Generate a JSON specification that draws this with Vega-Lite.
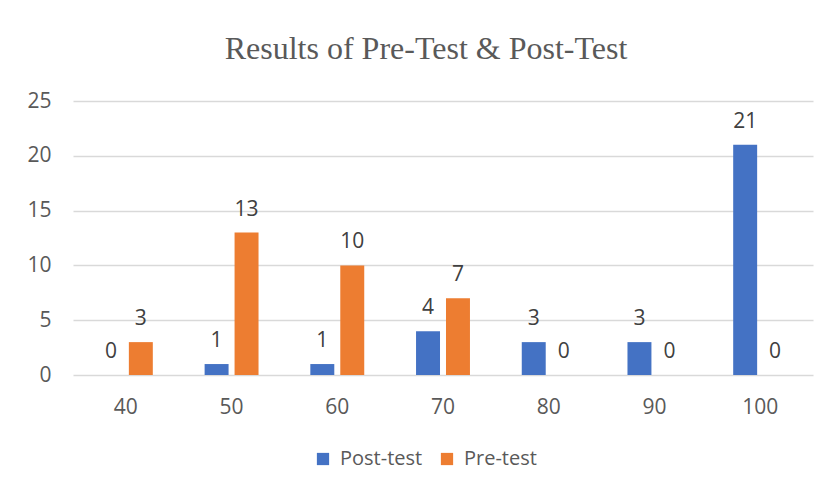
{
  "$schema": "https://vega.github.io/schema/vega-lite/v6.json",
  "width": 740,
  "height": 274,
  "autosize": {"type": "none"},
  "padding": {"left": 73, "top": 101, "right": 16, "bottom": 113},
  "background": "white",
  "title": {
    "text": "Results of Pre-Test & Post-Test",
    "font": "Liberation Serif",
    "fontSize": 32,
    "fontWeight": "normal",
    "color": "#595959",
    "anchor": "middle",
    "frame": "group",
    "dx": -17,
    "baseline": "alphabetic",
    "offset": -1
  },
  "data": {
    "values": [
      {"score": 40, "test": "Post-test", "count": 0},
      {"score": 50, "test": "Post-test", "count": 1},
      {"score": 60, "test": "Post-test", "count": 1},
      {"score": 70, "test": "Post-test", "count": 4},
      {"score": 80, "test": "Post-test", "count": 3},
      {"score": 90, "test": "Post-test", "count": 3},
      {"score": 100, "test": "Post-test", "count": 21},
      {"score": 40, "test": "Pre-test", "count": 3},
      {"score": 50, "test": "Pre-test", "count": 13},
      {"score": 60, "test": "Pre-test", "count": 10},
      {"score": 70, "test": "Pre-test", "count": 7},
      {"score": 80, "test": "Pre-test", "count": 0},
      {"score": 90, "test": "Pre-test", "count": 0},
      {"score": 100, "test": "Pre-test", "count": 0}
    ]
  },
  "encoding": {
    "x": {
      "field": "score",
      "type": "ordinal",
      "scale": {"paddingInner": 0.49, "paddingOuter": 0.245},
      "axis": {
        "title": null,
        "labelAngle": 0,
        "ticks": false,
        "domain": false,
        "labelPadding": 21,
        "labelFont": "Open Sans",
        "labelFontSize": 21,
        "labelColor": "#595959"
      }
    },
    "xOffset": {
      "field": "test",
      "type": "nominal",
      "sort": ["Post-test", "Pre-test"],
      "scale": {"paddingInner": 0.2, "paddingOuter": 0}
    },
    "y": {
      "field": "count",
      "type": "quantitative",
      "scale": {"domain": [0, 25], "nice": false},
      "axis": {
        "title": null,
        "values": [0, 5, 10, 15, 20, 25],
        "ticks": false,
        "domain": false,
        "labelPadding": 22,
        "labelFont": "Open Sans",
        "labelFontSize": 21,
        "labelColor": "#595959",
        "gridColor": "#d9d9d9",
        "gridWidth": 1.5
      }
    }
  },
  "layer": [
    {
      "mark": {"type": "bar"},
      "encoding": {
        "color": {
          "field": "test",
          "type": "nominal",
          "sort": ["Post-test", "Pre-test"],
          "scale": {"domain": ["Post-test", "Pre-test"], "range": ["#4472C4", "#ED7D31"]},
          "legend": {
            "title": null,
            "orient": "none",
            "direction": "horizontal",
            "legendX": 240,
            "legendY": 348,
            "symbolType": "square",
            "symbolSize": 150,
            "symbolStrokeWidth": 0,
            "labelFont": "Open Sans",
            "labelFontSize": 20,
            "labelColor": "#595959",
            "labelOffset": 7,
            "columnPadding": 14
          }
        }
      }
    },
    {
      "mark": {
        "type": "text",
        "baseline": "bottom",
        "dy": -13,
        "font": "Open Sans",
        "fontSize": 21,
        "color": "#404040"
      },
      "encoding": {
        "text": {"field": "count", "type": "quantitative"}
      }
    }
  ],
  "config": {"view": {"stroke": null}}
}
